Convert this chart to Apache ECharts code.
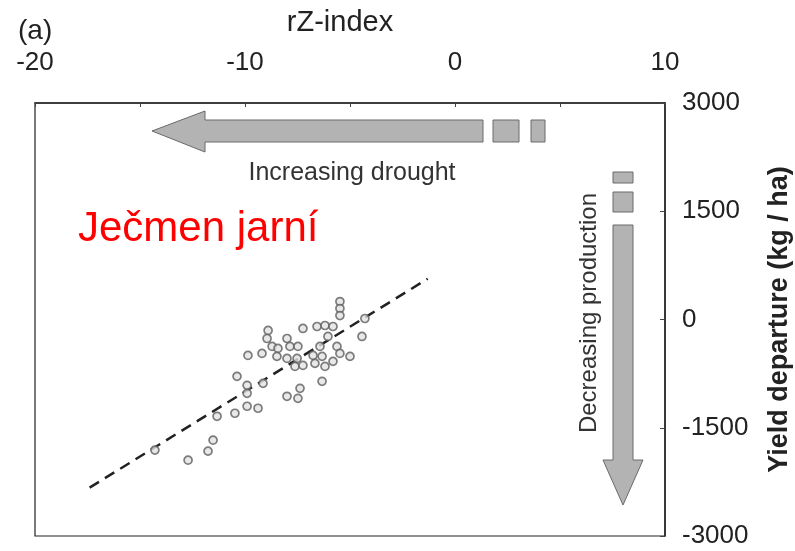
<!DOCTYPE html>
<html><head><meta charset="utf-8">
<script src="https://cdn.jsdelivr.net/npm/echarts@6/dist/echarts.min.js"></script>
<style>html,body{margin:0;padding:0;background:#fff}#c{width:795px;height:551px}</style>
</head><body><div id="c"></div>
<script>
// rZ-index values of the observed years
const rzIndex = [-5.48,-5.48,-5.48,-8.90,-7.24,-6.57,-6.19,-5.81,-6.05,-4.43,-4.29,-8.0,-8.95,-8.71,-8.43,-7.86,-7.48,-6.43,-5.62,-9.86,-9.19,-8.48,-8.0,-7.52,-6.76,-6.33,-5.48,-5.0,-7.62,-7.24,-6.67,-6.19,-5.81,-6.33,-10.38,-9.90,-9.14,-7.38,-8.0,-7.48,-9.90,-9.90,-9.38,-10.48,-11.33,-11.52,-11.76,-12.71,-14.29];
// yield departure (kg/ha)
const yieldDep = [249,152,55,-152,-124,-97,-83,-97,-235,-235,14,-263,-263,-373,-401,-373,-373,-373,-373,-498,-470,-511,-539,-539,-498,-511,-470,-511,-650,-636,-608,-650,-580,-857,-788,-912,-885,-954,-1064,-1092,-1023,-1202,-1230,-1299,-1341,-1672,-1824,-1949,-1810];
// regression line endpoints
const fitX = [-17.4, -1.3];
const fitY = [-2330, 565];
const xTicks = [-20, -10, 0, 10];
const yTicks = [-3000, -1500, 0, 1500, 3000];

const ff = '"Liberation Sans", Arial, sans-serif';
const chart = echarts.init(document.getElementById('c'));
const pts = rzIndex.map((x, i) => [x, yieldDep[i]]);
const fit = fitX.map((x, i) => [x, fitY[i]]);
const gray = '#b3b3b3', edge = '#6a6a6a';

chart.setOption({
  animation: false,
  backgroundColor: '#fff',
  grid: { left: 35, right: 130, top: 103, bottom: 15, containLabel: false, outerBoundsMode: 'none',
    show: true, borderColor: '#222', borderWidth: 1.2, backgroundColor: 'transparent' },
  xAxis: {
    type: 'value', position: 'top', min: -20, max: 10, interval: 5,
    name: 'rZ-index', nameLocation: 'middle', nameGap: 66,
    nameTextStyle: { fontFamily: ff, fontSize: 29, color: '#222', padding: [0, 20, 0, 0] },
    axisLine: { onZero: false, lineStyle: { color: '#222', width: 1.5 } },
    axisTick: { inside: true, length: 4, lineStyle: { color: '#444' } },
    axisLabel: { margin: 27, fontFamily: ff, fontSize: 26, color: '#222',
      formatter: v => xTicks.includes(v) ? String(v) : '' },
    splitLine: { show: false }
  },
  yAxis: {
    type: 'value', position: 'right', min: -3000, max: 3000, interval: 1500,
    name: 'Yield departure (kg / ha)', nameLocation: 'middle', nameGap: 101, nameRotate: 90,
    nameTextStyle: { fontFamily: ff, fontSize: 27, color: '#222', fontWeight: 'bold' },
    axisLine: { onZero: false, lineStyle: { color: '#222', width: 1.5 } },
    axisTick: { inside: true, length: 5, lineStyle: { color: '#444' } },
    axisLabel: { margin: 17, fontFamily: ff, fontSize: 26, color: '#222',
      formatter: v => yTicks.includes(v) ? String(v) : '' },
    splitLine: { show: false }
  },
  series: [
    { type: 'line', data: fit, showSymbol: false, silent: true,
      lineStyle: { color: '#222', width: 2.5, type: [11, 7] }, z: 3 },
    { type: 'scatter', data: pts, symbol: 'circle', symbolSize: 8,
      itemStyle: { color: '#e2e2e2', borderColor: '#5e5e5e', borderWidth: 1.7 }, z: 4 }
  ],
  graphic: [
    { type: 'text', x: 18, y: 31, style: { text: '(a)', font: '28px ' + ff, fill: '#222', verticalAlign: 'middle' } },
    { type: 'polygon', shape: { points: [[152,131],[205,111],[205,120],[483,120],[483,142],[205,142],[205,152]] },
      style: { fill: gray, stroke: edge, lineWidth: 1 } },
    { type: 'rect', shape: { x: 493, y: 120, width: 26, height: 22 }, style: { fill: gray, stroke: edge, lineWidth: 1 } },
    { type: 'rect', shape: { x: 531, y: 120, width: 14, height: 22 }, style: { fill: gray, stroke: edge, lineWidth: 1 } },
    { type: 'text', x: 352, y: 173, style: { text: 'Increasing drought', font: '25px ' + ff, fill: '#333', align: 'center', verticalAlign: 'middle' } },
    { type: 'rect', shape: { x: 613, y: 172, width: 20, height: 11 }, style: { fill: gray, stroke: edge, lineWidth: 1 } },
    { type: 'rect', shape: { x: 613, y: 192, width: 20, height: 20 }, style: { fill: gray, stroke: edge, lineWidth: 1 } },
    { type: 'polygon', shape: { points: [[613,225],[633,225],[633,460],[643,460],[623,505],[603,460],[613,460]] },
      style: { fill: gray, stroke: edge, lineWidth: 1 } },
    { type: 'text', x: 589, y: 313, rotation: Math.PI / 2, style: { text: 'Decreasing production', font: '24px ' + ff, fill: '#333', align: 'center', verticalAlign: 'middle' } },
    { type: 'text', x: 78, y: 229, style: { text: 'Ječmen jarní', font: '42px ' + ff, fill: '#ff0000', verticalAlign: 'middle' } }
  ]
});
</script></body></html>
